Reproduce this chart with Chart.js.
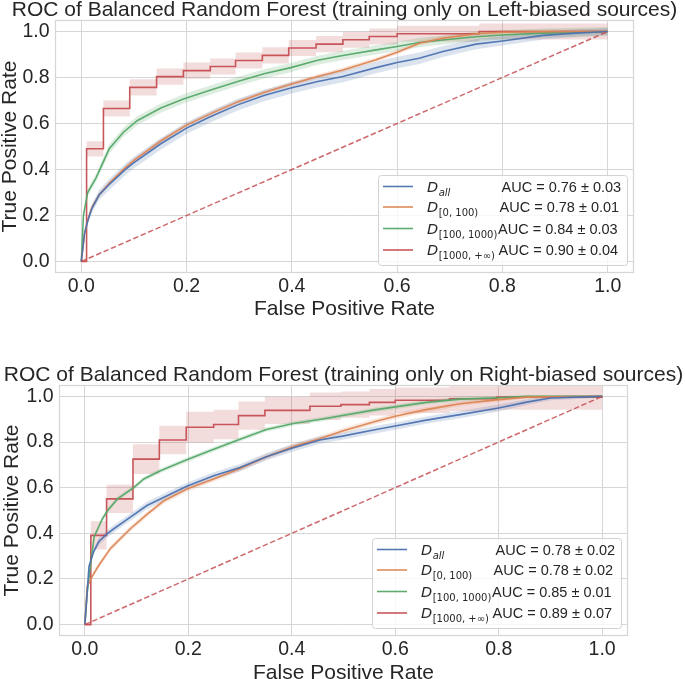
<!DOCTYPE html>
<html><head><meta charset="utf-8">
<script src="https://cdn.jsdelivr.net/npm/chart.js@4"></script>
<style>
html,body{margin:0;padding:0;background:#fff;}
#wrap{position:relative;width:685px;height:679px;overflow:hidden;background:#fff;}
canvas{position:absolute;left:0;}
</style></head><body>
<div id="wrap">
<canvas id="c1" width="685" height="340" style="top:0px"></canvas>
<canvas id="c2" width="685" height="339" style="top:340px"></canvas>
</div>
<script>
// ---------- text ----------
const titleLeft = 'ROC of Balanced Random Forest (training only on Left-biased sources)';
const titleRight = 'ROC of Balanced Random Forest (training only on Right-biased sources)';
const xAxisLabel = 'False Positive Rate';
const yAxisLabel = 'True Positive Rate';
const tickValues = [0, 0.2, 0.4, 0.6, 0.8, 1.0];
const legendSubs = ['all', '[0, 100)', '[100, 1000)', '[1000, +\u221e)'];
const aucLeft = ['AUC = 0.76 \u00b1 0.03', 'AUC = 0.78 \u00b1 0.01', 'AUC = 0.84 \u00b1 0.03', 'AUC = 0.90 \u00b1 0.04'];
const aucRight = ['AUC = 0.78 \u00b1 0.02', 'AUC = 0.78 \u00b1 0.02', 'AUC = 0.85 \u00b1 0.01', 'AUC = 0.89 \u00b1 0.07'];

// ---------- chance diagonal ----------
const diagFpr = [0, 1];
const diagTpr = [0, 1];

// ---------- Left-biased training (top) ----------
const leftAllFpr = [0, 0.006, 0.012, 0.02, 0.034, 0.053, 0.085, 0.1, 0.151, 0.2, 0.246, 0.297, 0.347, 0.398, 0.449, 0.497, 0.56, 0.6, 0.642, 0.687, 0.75, 0.8, 0.877, 0.94, 1.0];
const leftAllTpr = [0, 0.12, 0.175, 0.23, 0.29, 0.335, 0.403, 0.43, 0.512, 0.58, 0.630, 0.681, 0.722, 0.754, 0.783, 0.804, 0.843, 0.865, 0.884, 0.913, 0.945, 0.959, 0.983, 0.993, 1.0];
const leftAllSd  = [0, 0.01, 0.015, 0.02, 0.022, 0.024, 0.025, 0.025, 0.025, 0.025, 0.025, 0.025, 0.025, 0.025, 0.025, 0.025, 0.025, 0.025, 0.025, 0.024, 0.022, 0.02, 0.018, 0.016, 0.015];

const left0Fpr = [0, 0.006, 0.012, 0.02, 0.034, 0.053, 0.085, 0.1, 0.151, 0.2, 0.246, 0.297, 0.347, 0.398, 0.449, 0.497, 0.56, 0.6, 0.642, 0.687, 0.75, 0.8, 0.877, 1.0];
const left0Tpr = [0, 0.12, 0.18, 0.235, 0.29, 0.34, 0.41, 0.44, 0.524, 0.593, 0.643, 0.694, 0.735, 0.771, 0.804, 0.833, 0.877, 0.91, 0.949, 0.971, 0.99, 0.997, 0.999, 1.0];
const left0Sd  = [0, 0.006, 0.008, 0.01, 0.01, 0.01, 0.01, 0.01, 0.01, 0.01, 0.01, 0.01, 0.01, 0.01, 0.01, 0.01, 0.01, 0.01, 0.01, 0.01, 0.01, 0.01, 0.01, 0.01];

const left100Fpr = [0, 0.004, 0.012, 0.028, 0.053, 0.08, 0.106, 0.151, 0.194, 0.246, 0.297, 0.347, 0.398, 0.449, 0.497, 0.56, 0.6, 0.642, 0.687, 0.75, 0.8, 0.877, 1.0];
const left100Tpr = [0, 0.2, 0.3, 0.364, 0.49, 0.562, 0.612, 0.667, 0.707, 0.746, 0.783, 0.816, 0.843, 0.875, 0.896, 0.92, 0.935, 0.952, 0.963, 0.977, 0.985, 0.993, 1.0];
const left100Sd  = [0, 0.012, 0.016, 0.018, 0.02, 0.02, 0.02, 0.02, 0.02, 0.02, 0.02, 0.02, 0.02, 0.02, 0.02, 0.02, 0.02, 0.02, 0.02, 0.02, 0.02, 0.02, 0.02];

const left1000Fpr = [0, 0.010, 0.042, 0.092, 0.143, 0.194, 0.245, 0.293, 0.344, 0.394, 0.446, 0.497, 0.547, 0.6, 0.756, 1.0];
const left1000Tpr = [0, 0.49, 0.665, 0.757, 0.804, 0.83, 0.848, 0.874, 0.896, 0.928, 0.945, 0.964, 0.978, 0.99, 1.0, 1.0];
const left1000Sd  = [0, 0.033, 0.035, 0.035, 0.035, 0.035, 0.035, 0.035, 0.035, 0.035, 0.035, 0.035, 0.035, 0.035, 0.035, 0.035];

// ---------- Right-biased training (bottom) ----------
const rightAllFpr = [0, 0.008, 0.017, 0.027, 0.044, 0.056, 0.088, 0.12, 0.153, 0.197, 0.249, 0.3, 0.351, 0.403, 0.454, 0.498, 0.563, 0.6, 0.66, 0.725, 0.8, 0.854, 0.9, 0.951, 1.0];
const rightAllTpr = [0, 0.255, 0.32, 0.364, 0.40, 0.42, 0.471, 0.522, 0.558, 0.606, 0.652, 0.688, 0.736, 0.775, 0.809, 0.826, 0.855, 0.87, 0.896, 0.92, 0.949, 0.975, 0.993, 0.997, 1.0];
const rightAllSd  = [0, 0.01, 0.013, 0.015, 0.016, 0.016, 0.016, 0.016, 0.016, 0.016, 0.016, 0.016, 0.016, 0.016, 0.016, 0.016, 0.016, 0.016, 0.016, 0.016, 0.015, 0.013, 0.01, 0.008, 0.006];

const right0Fpr = [0, 0.0045, 0.015, 0.027, 0.05, 0.088, 0.12, 0.153, 0.197, 0.249, 0.3, 0.351, 0.403, 0.454, 0.498, 0.563, 0.6, 0.66, 0.725, 0.8, 0.854, 1.0];
const right0Tpr = [0, 0.167, 0.215, 0.26, 0.335, 0.42, 0.483, 0.543, 0.594, 0.638, 0.684, 0.736, 0.78, 0.814, 0.848, 0.891, 0.913, 0.942, 0.968, 0.986, 0.997, 1.0];
const right0Sd  = [0, 0.008, 0.01, 0.012, 0.012, 0.012, 0.012, 0.012, 0.012, 0.012, 0.012, 0.012, 0.012, 0.012, 0.012, 0.012, 0.012, 0.012, 0.01, 0.008, 0.006, 0.005];

const right100Fpr = [0, 0.005, 0.012, 0.018, 0.034, 0.044, 0.063, 0.095, 0.114, 0.146, 0.197, 0.249, 0.3, 0.351, 0.403, 0.454, 0.498, 0.563, 0.6, 0.66, 0.725, 0.8, 0.854, 1.0];
const right100Tpr = [0, 0.15, 0.28, 0.385, 0.464, 0.5, 0.551, 0.601, 0.638, 0.674, 0.722, 0.768, 0.812, 0.855, 0.881, 0.899, 0.916, 0.942, 0.954, 0.974, 0.988, 0.994, 1.0, 1.0];
const right100Sd  = [0, 0.008, 0.01, 0.01, 0.01, 0.01, 0.01, 0.01, 0.01, 0.01, 0.01, 0.01, 0.01, 0.01, 0.01, 0.01, 0.01, 0.01, 0.01, 0.01, 0.01, 0.008, 0.006, 0.005];

const right1000Fpr = [0, 0.0115, 0.042, 0.093, 0.144, 0.196, 0.249, 0.297, 0.348, 0.435, 0.495, 0.55, 0.6, 0.705, 0.796, 1.0];
const right1000Tpr = [0, 0.391, 0.551, 0.725, 0.809, 0.865, 0.877, 0.916, 0.939, 0.957, 0.964, 0.974, 0.983, 0.99, 0.997, 1.0];
const right1000Sd  = [0, 0.062, 0.062, 0.065, 0.062, 0.068, 0.065, 0.062, 0.06, 0.06, 0.058, 0.058, 0.056, 0.055, 0.055, 0.055];

// ---------- styles ----------
const seriesColors = [[76, 114, 176], [221, 132, 82], [85, 168, 104], [196, 78, 82]];
const textColor = '#262626';
const gridColor = '#d6d6d6';
const FONT = '"Liberation Sans", Arial, Helvetica, sans-serif';
const MATH = '"DejaVu Sans", sans-serif';

function rgba(c, a) { return 'rgba(' + c[0] + ',' + c[1] + ',' + c[2] + ',' + a + ')'; }

function buildDatasets(series) {
  const ds = [];
  series.forEach((s, i) => {
    const col = seriesColors[i];
    const stepped = s.stepped ? 'before' : false;
    ds.push({ data: s.fpr.map((x, j) => ({ x: x, y: s.tpr[j] - s.sd[j] })), borderWidth: 0, pointRadius: 0, fill: false, stepped: stepped, order: 2, borderColor: 'rgba(0,0,0,0)' });
    ds.push({ data: s.fpr.map((x, j) => ({ x: x, y: s.tpr[j] + s.sd[j] })), borderWidth: 0, pointRadius: 0, fill: '-1', backgroundColor: rgba(col, 0.2), stepped: stepped, order: 2, borderColor: 'rgba(0,0,0,0)' });
  });
  series.forEach((s, i) => {
    const col = seriesColors[i];
    ds.push({ data: s.fpr.map((x, j) => ({ x: x, y: s.tpr[j] })), borderColor: rgba(col, 0.95), borderWidth: 1.6, pointRadius: 0, fill: false, stepped: s.stepped ? 'before' : false, order: 1 });
  });
  ds.push({ data: diagFpr.map((x, j) => ({ x: x, y: diagTpr[j] })), borderColor: rgba(seriesColors[3], 0.85), borderWidth: 1.5, borderDash: [5.5, 2.6], pointRadius: 0, fill: false, order: 0 });
  return ds;
}

function axis(fitFn, pad) {
  return {
    type: 'linear', min: -0.05, max: 1.05,
    afterBuildTicks: s => { s.ticks = tickValues.map(v => ({ value: v })); },
    afterFit: fitFn,
    ticks: { callback: v => v.toFixed(1), color: textColor, font: { family: FONT, size: 19.5 }, padding: pad, maxRotation: 0, autoSkip: false },
    grid: { color: gridColor, lineWidth: 1, drawTicks: false },
    border: { display: false }
  };
}

const decorPlugin = {
  id: 'decor',
  afterDatasetsDraw(chart, args, opts) {
    const ctx = chart.ctx, a = chart.chartArea;
    ctx.save();
    ctx.strokeStyle = gridColor; ctx.lineWidth = 1.25;
    ctx.strokeRect(a.left + 0.5, a.top + 0.5, a.right - a.left - 1, a.bottom - a.top - 1);
    ctx.restore();
  },
  afterDraw(chart, args, opts) {
    const ctx = chart.ctx, a = chart.chartArea;
    ctx.save();
    ctx.fillStyle = textColor;
    // title
    ctx.font = '21px ' + FONT;
    ctx.textAlign = 'center'; ctx.textBaseline = 'alphabetic';
    ctx.fillText(opts.title, (a.left + a.right) / 2, a.top - 4.5);
    // x axis label
    ctx.fillText(xAxisLabel, (a.left + a.right) / 2, a.bottom + opts.xLabelDy);
    // y axis label
    ctx.save();
    ctx.translate(opts.yLabelX, (a.top + a.bottom) / 2);
    ctx.rotate(-Math.PI / 2);
    ctx.textBaseline = 'middle';
    ctx.fillText(yAxisLabel, 0, 0);
    ctx.restore();
    // legend
    const w = 249, h = 90;
    const bx = a.right - 7 - w, by = a.bottom - 8 - h;
    ctx.beginPath();
    if (ctx.roundRect) ctx.roundRect(bx + 0.5, by + 0.5, w, h, 3); else ctx.rect(bx + 0.5, by + 0.5, w, h);
    ctx.fillStyle = 'rgba(255,255,255,0.8)';
    ctx.fill();
    ctx.strokeStyle = '#d2d2d2'; ctx.lineWidth = 1;
    ctx.stroke();
    const rowsY = [11.5, 32, 53.5, 75];
    const aucX = [123.5, 121.5, 120, 120.5];
    for (let i = 0; i < 4; i++) {
      const cy = by + rowsY[i];
      ctx.strokeStyle = rgba(seriesColors[i], 0.95); ctx.lineWidth = 1.6;
      ctx.beginPath(); ctx.moveTo(bx + 5, cy); ctx.lineTo(bx + 35, cy); ctx.stroke();
      const base = cy + 5;
      ctx.fillStyle = textColor;
      ctx.textAlign = 'left'; ctx.textBaseline = 'alphabetic';
      ctx.font = 'italic 14.5px ' + MATH;
      ctx.fillText('D', bx + 49, base);
      const dw = ctx.measureText('D').width;
      ctx.font = (i === 0 ? 'italic ' : '') + '10px ' + MATH;
      ctx.fillText(legendSubs[i], bx + 49 + dw + 0.5, base + 4);
      ctx.font = '14.5px ' + FONT;
      ctx.fillText(opts.auc[i], bx + aucX[i], base);
    }
    ctx.restore();
  }
};

function makeChart(id, series, geo, opts) {
  return new Chart(document.getElementById(id), {
    type: 'line',
    data: { datasets: buildDatasets(series) },
    options: {
      responsive: false, animation: false, devicePixelRatio: 1,
      layout: { padding: { left: 0, right: geo.padRight, top: geo.padTop, bottom: 0 } },
      parsing: false, normalized: true,
      scales: {
        x: axis(s => { s.height = geo.xH; }, 2),
        y: axis(s => { s.width = geo.yW; }, 5.5)
      },
      plugins: { legend: { display: false }, tooltip: { enabled: false }, title: { display: false }, decor: opts }
    },
    plugins: [decorPlugin]
  });
}

makeChart('c1', [
  { fpr: leftAllFpr, tpr: leftAllTpr, sd: leftAllSd },
  { fpr: left0Fpr, tpr: left0Tpr, sd: left0Sd },
  { fpr: left100Fpr, tpr: left100Tpr, sd: left100Sd },
  { fpr: left1000Fpr, tpr: left1000Tpr, sd: left1000Sd, stepped: true }
], { padRight: 51, padTop: 20, xH: 67, yW: 55 }, { title: titleLeft, auc: aucLeft, xLabelDy: 42, yLabelX: 10 });

makeChart('c2', [
  { fpr: rightAllFpr, tpr: rightAllTpr, sd: rightAllSd },
  { fpr: right0Fpr, tpr: right0Tpr, sd: right0Sd },
  { fpr: right100Fpr, tpr: right100Tpr, sd: right100Sd },
  { fpr: right1000Fpr, tpr: right1000Tpr, sd: right1000Sd, stepped: true }
], { padRight: 57, padTop: 45, xH: 43, yW: 59 }, { title: titleRight, auc: aucRight, xLabelDy: 43, yLabelX: 12 });
</script>
</body></html>
